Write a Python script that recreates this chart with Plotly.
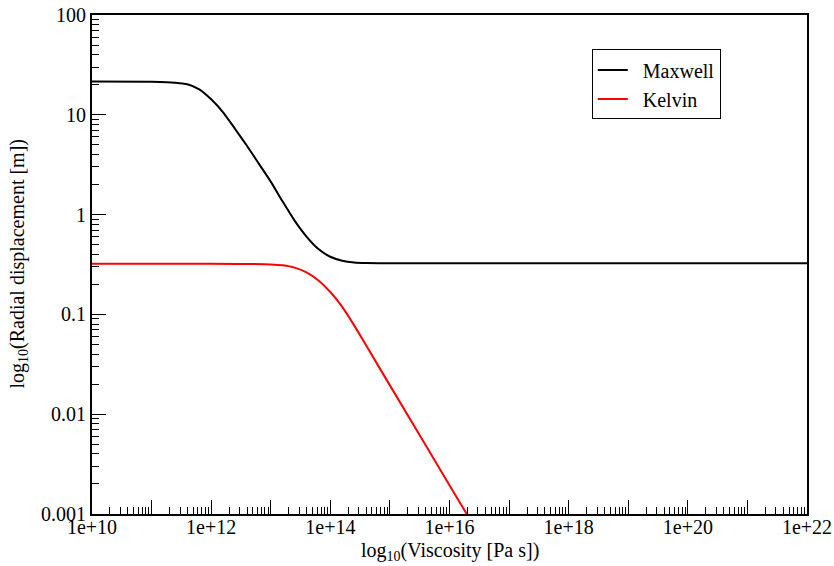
import plotly.graph_objects as go

# Viscosity values (Pa s)
maxwell_eta = [1e10, 1e11, 10**11.4, 10**11.6, 10**11.8, 1e12, 10**12.2, 10**12.4, 10**12.6,
               10**12.8, 1e13, 10**13.2, 10**13.4, 10**13.6, 10**13.8, 1e14, 10**14.2,
               10**14.4, 10**14.6, 1e15, 1e16, 1e18, 1e20, 1e22]
maxwell_u = [21.5, 21.4, 21.0, 20.2, 18.0, 14.3, 10.6, 7.24, 4.90,
             3.24, 2.14, 1.35, 0.871, 0.603, 0.452, 0.378, 0.345,
             0.331, 0.327, 0.325, 0.325, 0.325, 0.325, 0.325]

kelvin_eta = [1e10, 1e11, 1e12, 1e13, 10**13.2, 10**13.4, 10**13.6, 10**13.8, 1e14,
              10**14.2, 10**14.4, 10**14.6, 1e15, 1e16, 1e17]
kelvin_u = [0.322, 0.322, 0.322, 0.317, 0.310, 0.294, 0.263, 0.219, 0.1675,
            0.119, 0.0776, 0.049, 0.01945, 0.001945, 0.0001945]

x_tickvals = [1e10, 1e11, 1e12, 1e13, 1e14, 1e15, 1e16, 1e17, 1e18, 1e19, 1e20, 1e21, 1e22]
x_ticktext = ["1e+10", "", "1e+12", "", "1e+14", "", "1e+16", "", "1e+18", "", "1e+20", "", "1e+22"]
y_tickvals = [0.001, 0.01, 0.1, 1, 10, 100]
y_ticktext = ["0.001", "0.01", "0.1", "1", "10", "100"]

x_title = "log<sub>10</sub>(Viscosity [Pa s])"
y_title = "log<sub>10</sub>(Radial displacement [m])"

x_minor = [k * 10.0**n for n in range(10, 22) for k in range(2, 10)]
y_minor = [k * 10.0**n for n in range(-3, 2) for k in range(2, 10)]

FONT = "Liberation Serif"
FS = 20

fig = go.Figure()
fig.add_trace(go.Scatter(x=maxwell_eta, y=maxwell_u, mode="lines", name="\u00a0\u00a0Maxwell",
                         line=dict(color="black", width=2, shape="spline", smoothing=0.6)))
fig.add_trace(go.Scatter(x=kelvin_eta, y=kelvin_u, mode="lines", name="\u00a0\u00a0Kelvin",
                         line=dict(color="red", width=2, shape="spline", smoothing=0.6)))

axis_common = dict(
    showgrid=False, zeroline=False, showline=True, linecolor="black", linewidth=2,
    mirror=True, ticks="inside", ticklen=14, tickwidth=1.2, tickcolor="black",
    tickfont=dict(family=FONT, size=FS, color="black"), automargin=False,
)
minor_common = dict(ticks="inside", ticklen=7, tickwidth=1.2, tickcolor="black",
                    tickmode="array", showgrid=False)

fig.update_xaxes(
    type="log", range=[10, 22], tickmode="array", tickvals=x_tickvals, ticktext=x_ticktext,
    ticklabelstandoff=-6,
    minor=dict(tickvals=x_minor, **minor_common),
    **axis_common,
)
fig.update_yaxes(
    type="log", range=[-3, 2], tickmode="array", tickvals=y_tickvals, ticktext=y_ticktext,
    minor=dict(tickvals=y_minor, **minor_common),
    **axis_common,
)

fig.add_annotation(text=x_title, xref="paper", yref="paper", x=0.5, y=0, yshift=-37,
                   xanchor="center", yanchor="middle", showarrow=False,
                   font=dict(family=FONT, size=FS, color="black"))
fig.add_annotation(text=y_title, xref="paper", yref="paper", x=0, y=0.5, xshift=-74,
                   xanchor="center", yanchor="middle", textangle=-90, showarrow=False,
                   font=dict(family=FONT, size=FS, color="black"))

fig.update_layout(
    width=834, height=566,
    margin=dict(l=92, r=27, t=15, b=52),
    paper_bgcolor="white", plot_bgcolor="white",
    font=dict(family=FONT, size=FS, color="black"),
    showlegend=True,
    legend=dict(x=0.699, y=0.931, xanchor="left", yanchor="top",
                bordercolor="black", borderwidth=1, bgcolor="white",
                font=dict(family=FONT, size=FS, color="black"),
                tracegroupgap=0, itemwidth=30),
)

fig.write_html("out.html", config={"displayModeBar": False},
               post_script="document.body.style.margin='0';document.body.style.overflow='hidden';")
